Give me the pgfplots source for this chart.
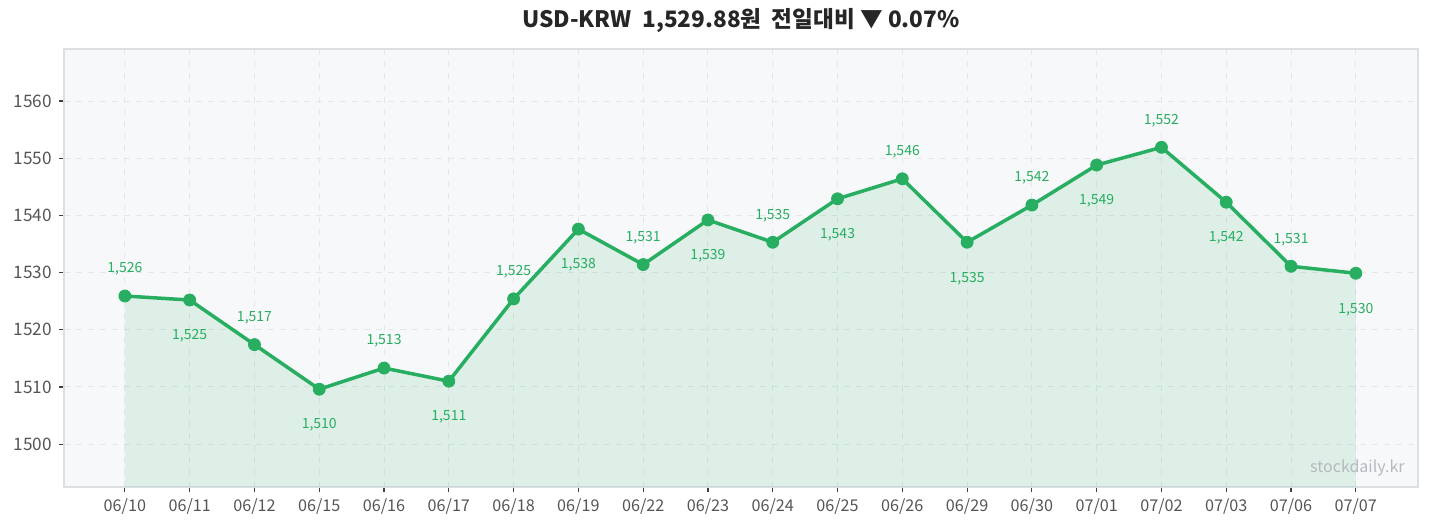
\documentclass[border=0pt]{standalone}
\usepackage{fontspec}
\setmainfont{Noto Sans CJK KR}
\usepackage{pgfplots}
\pgfplotsset{compat=1.18}

\definecolor{krwgreen}{HTML}{27AE60}
\definecolor{plotbg}{HTML}{F7F8FA}
\definecolor{gridgray}{HTML}{E4E6EA}
\definecolor{framegray}{HTML}{DCDFE4}
\definecolor{ticktext}{HTML}{555555}
\definecolor{wmark}{HTML}{B5BABF}

% USD-KRW daily close, x = trading day index
\pgfplotstableread{
x y
0 1525.9
1 1525.2
2 1517.4
3 1509.6
4 1513.3
5 1511.0
6 1525.4
7 1537.6
8 1531.4
9 1539.2
10 1535.3
11 1542.9
12 1546.4
13 1535.3
14 1541.8
15 1548.8
16 1551.9
17 1542.3
18 1531.1
19 1529.88
}\krw

\begin{document}
\begin{tikzpicture}
\begin{axis}[
    scale only axis,
    width=677pt, height=219pt,
    xmin=-0.94, xmax=19.96,
    ymin=1492.5, ymax=1569.1,
    xtick={0,...,19},
    xticklabels={06/10,06/11,06/12,06/15,06/16,06/17,06/18,06/19,06/22,06/23,06/24,06/25,06/26,06/29,06/30,07/01,07/02,07/03,07/06,07/07},
    ytick={1500,1510,...,1560},
    /pgf/number format/assume math mode=true,
    yticklabel style={/pgf/number format/1000 sep={}, font=\fontsize{8.6}{10}\selectfont},
    xticklabel style={font=\fontsize{8.1}{10}\selectfont},
    tick label style={text=ticktext},
    tick align=outside,
    major tick length=2.5pt,
    tick style={black!75, line width=0.6pt},
    axis line style={framegray, line width=0.6pt},
    axis background/.style={fill=plotbg},
    grid=major,
    major grid style={gridgray, dashed, line width=0.5pt},
    xtick pos=bottom, ytick pos=left,
    clip=false,
]
% shaded area under the line
\addplot[draw=none, fill=krwgreen, fill opacity=0.12] table[x=x,y=y]{\krw} \closedcycle;
% main line
\addplot[krwgreen, line width=1.75pt, mark=*, mark size=3pt, mark options={fill=krwgreen, draw=krwgreen, line width=0.4pt}] table[x=x,y=y]{\krw};
% value labels above (even days)
\addplot[draw=none, mark=none, x filter/.expression={mod(x,2)==0 ? x : nan},
    point meta=y,
    nodes near coords,
    nodes near coords style={anchor=center, yshift=13.5pt, text=krwgreen, font=\fontsize{7}{8}\selectfont,
        /pgf/number format/.cd, fixed, precision=0, 1000 sep={,}, assume math mode=true}]
    table[x=x,y=y]{\krw};
% value labels below (odd days)
\addplot[draw=none, mark=none, x filter/.expression={mod(x,2)==1 ? x : nan},
    point meta=y,
    nodes near coords,
    nodes near coords style={anchor=center, yshift=-18pt, text=krwgreen, font=\fontsize{7}{8}\selectfont,
        /pgf/number format/.cd, fixed, precision=0, 1000 sep={,}, assume math mode=true}]
    table[x=x,y=y]{\krw};
\node[anchor=south east, text=wmark, font=\fontsize{8}{9}\selectfont, inner sep=0pt] at ([shift={(-6.5pt,5pt)}]rel axis cs:1,0) {stockdaily.kr};
\node[font=\fontsize{11.3}{13}\selectfont\bfseries, text=black!85] at ([yshift=14pt]rel axis cs:0.5,1) {USD-KRW\ \ 1,529.88원\ \ 전일대비 ▼ 0.07\%};
\end{axis}
\pgfresetboundingbox
\path ([shift={(-32pt,-20pt)}]current axis.south west) rectangle ([shift={(5.5pt,24.5pt)}]current axis.north east);
\end{tikzpicture}
\end{document}
